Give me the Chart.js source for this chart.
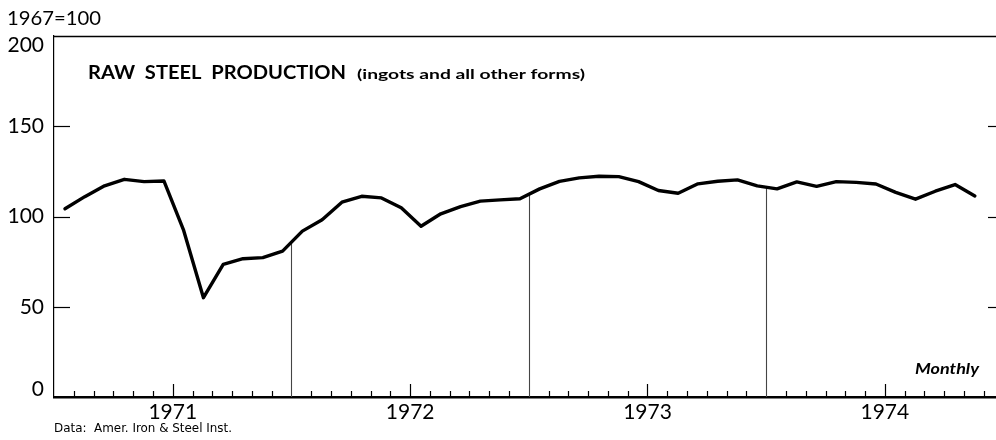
<!DOCTYPE html>
<html>
<head>
<meta charset="utf-8">
<script src="https://cdn.jsdelivr.net/npm/chart.js@4.4.1/dist/chart.umd.min.js"></script>
<style>
  html, body { margin: 0; padding: 0; background: #fff; }
  #c { display: block; }
</style>
</head>
<body>
<canvas id="c" width="996" height="440"></canvas>
<script>
// ---- Data (index 1967 = 100), monthly Jan 1971 .. Nov 1974 ----
const years = ['1971', '1972', '1973', '1974'];
const steel1971 = [104.3, 111, 117, 120.6, 119.3, 119.7, 92.3, 55, 73.5, 76.6, 77.2, 80.8];
const steel1972 = [91.9, 98.2, 107.9, 111.2, 110.3, 104.8, 94.6, 101.5, 105.5, 108.5, 109.2, 109.8];
const steel1973 = [115.3, 119.5, 121.4, 122.3, 122.1, 119.3, 114.4, 112.9, 118.1, 119.5, 120.3, 117];
const steel1974 = [115.3, 119.2, 116.7, 119.3, 118.9, 118, 113.4, 109.6, 114, 117.7, 111.4];
const yTicks = [0, 50, 100, 150, 200];
const innerTicks = [50, 100, 150];

const steelIndex = [].concat(steel1971, steel1972, steel1973, steel1974);
const points = steelIndex.map((v, i) => ({ x: i, y: v }));

const BOUND = 0.45; // month boundary offset from point
const FONT = 'Lato, "DejaVu Sans", sans-serif';

function valueAt(xv) {
  const i = Math.floor(xv);
  const t = xv - i;
  const a = steelIndex[i], b = steelIndex[Math.min(i + 1, steelIndex.length - 1)];
  return a + (b - a) * t;
}

// draw text stretched horizontally to a target width
function fitText(ctx, text, x, y, w, align) {
  const m = ctx.measureText(text).width;
  const sx = w / m;
  ctx.save();
  ctx.textAlign = 'left';
  const x0 = align === 'right' ? x - w : x;
  ctx.translate(x0, y);
  ctx.scale(sx, 1);
  ctx.fillText(text, 0, 0);
  ctx.restore();
}

const decor = {
  id: 'decor',
  beforeDatasetsDraw(chart) {
    const { ctx, chartArea: a, scales: { x, y } } = chart;
    ctx.save();
    ctx.strokeStyle = '#000';
    // top border
    ctx.lineWidth = 1.5;
    ctx.beginPath(); ctx.moveTo(a.left, a.top + 0.5); ctx.lineTo(a.right, a.top + 0.5); ctx.stroke();
    // inward y ticks, left and right
    ctx.lineWidth = 1.2;
    innerTicks.forEach(v => {
      const py = Math.round(y.getPixelForValue(v)) + 0.5;
      ctx.beginPath(); ctx.moveTo(a.left, py); ctx.lineTo(a.left + 16, py); ctx.stroke();
      ctx.beginPath(); ctx.moveTo(a.right - 8, py); ctx.lineTo(a.right, py); ctx.stroke();
    });
    // month ticks on x axis
    const y0 = y.getPixelForValue(0);
    for (let i = 0; i < steelIndex.length + 1; i++) {
      const xv = i + BOUND;
      if (xv > x.max) break;
      const m = i % 12;
      const px = Math.round(x.getPixelForValue(xv)) + 0.5;
      if (m === 11) continue; // year boundary, drawn as tall line
      const len = (m === 5) ? 13 : 6;
      ctx.lineWidth = 1.2;
      ctx.beginPath(); ctx.moveTo(px, y0); ctx.lineTo(px, y0 - len); ctx.stroke();
    }
    // year boundary drop lines
    ctx.strokeStyle = '#444';
    ctx.lineWidth = 1.1;
    [1, 2, 3].forEach(k => {
      const xv = 12 * k - 1 + BOUND;
      const px = Math.round(x.getPixelForValue(xv)) + 0.5;
      ctx.beginPath(); ctx.moveTo(px, y0); ctx.lineTo(px, y.getPixelForValue(valueAt(xv))); ctx.stroke();
    });
    ctx.restore();
  },
  afterDraw(chart) {
    const { ctx, chartArea: a, scales: { y } } = chart;
    ctx.save();
    ctx.fillStyle = '#000';
    // end labels of the value axis, kept inside the frame
    ctx.font = '21px ' + FONT;
    ctx.textAlign = 'right';
    ctx.textBaseline = 'top';
    ctx.fillText(String(yTicks[yTicks.length - 1]), a.left - 10, y.getPixelForValue(yTicks[yTicks.length - 1]) - 1);
    ctx.textBaseline = 'alphabetic';
    ctx.fillText(String(yTicks[0]), a.left - 10, y.getPixelForValue(yTicks[0]) - 1);

    ctx.textBaseline = 'alphabetic';
    ctx.font = '20px ' + FONT;
    fitText(ctx, '1967=100', 7, 25, 94, 'left');
    ctx.font = 'bold 18px ' + FONT;
    fitText(ctx, 'RAW  STEEL  PRODUCTION', 88, 79, 258, 'left');
    ctx.font = 'bold 14px ' + FONT;
    fitText(ctx, '(ingots and all other forms)', 357, 79, 228, 'left');
    ctx.font = 'italic bold 15px ' + FONT;
    fitText(ctx, 'Monthly', 979, 374, 64, 'right');
    ctx.font = '13px "DejaVu Sans Condensed", "Liberation Sans Narrow", sans-serif';
    fitText(ctx, 'Data:  Amer. Iron & Steel Inst.', a.left, 432, 178, 'left');
    ctx.restore();
  }
};

new Chart(document.getElementById('c'), {
  type: 'line',
  data: {
    datasets: [{
      data: points,
      borderColor: '#000',
      borderWidth: 3.4,
      pointRadius: 0,
      tension: 0,
      fill: false,
      borderJoinStyle: 'round',
      borderCapStyle: 'round'
    }]
  },
  options: {
    responsive: false,
    animation: false,
    devicePixelRatio: 1,
    layout: { padding: { top: 36, right: 0, left: 0, bottom: 0 } },
    plugins: { legend: { display: false }, tooltip: { enabled: false }, title: { display: false } },
    scales: {
      x: {
        type: 'linear',
        min: -0.556,
        max: 47.07,
        grid: { display: false, drawTicks: false },
        border: { display: true, color: '#000', width: 2.5 },
        afterBuildTicks: s => { s.ticks = years.map((yr, k) => ({ value: 12 * k + 5 + BOUND })); },
        ticks: {
          autoSkip: false, maxRotation: 0, padding: 3, color: '#000',
          font: { family: FONT, size: 21 },
          callback: (v, idx) => years[idx]
        },
        afterFit: s => { s.height = 43; }
      },
      y: {
        min: 0,
        max: 200,
        grid: { display: false, drawTicks: false },
        border: { display: true, color: '#000', width: 1.2 },
        afterBuildTicks: s => { s.ticks = yTicks.map(v => ({ value: v })); },
        ticks: {
          padding: 10, color: '#000', font: { family: FONT, size: 21 },
          callback: v => innerTicks.includes(v) ? String(v) : ''
        },
        afterFit: s => { s.width = 54; }
      }
    }
  },
  plugins: [decor]
});
</script>
</body>
</html>
